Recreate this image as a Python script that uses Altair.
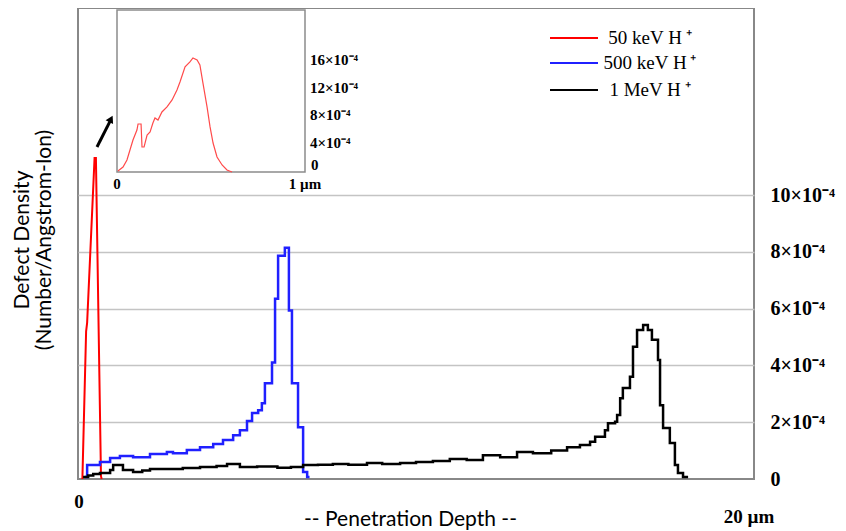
import altair as alt
import pandas as pd

# ---------------- data (depth in µm, defect density in units of 1e-4 / Å-ion) -------------
series_names = ["50 keV H\u2009\u207a", "500 keV H\u2009\u207a", "1 MeV H\u2009\u207a"]
series_colors = ["#ff0000", "#2020ff", "#000000"]

red_depth = [0.13, 0.24, 0.27, 0.49, 0.53, 0.68, 0.70]
red_density = [0.0, 5.2, 5.5, 11.3, 11.3, 0.1, 0.0]

blue_depth = [0.20, 0.27, 0.65, 0.95, 1.24, 1.63, 2.13, 2.63, 2.81, 3.22, 3.61, 4.00,
              4.29, 4.59, 4.79, 5.00, 5.15, 5.33, 5.44, 5.53, 5.74, 5.83, 5.92, 6.12,
              6.24, 6.33, 6.51, 6.66, 6.78, 6.85]
blue_density = [0.07, 0.49, 0.60, 0.74, 0.81, 0.77, 0.88, 0.95, 0.91, 1.02, 1.12, 1.23,
                1.37, 1.54, 1.72, 2.04, 2.32, 2.42, 2.67, 3.37, 4.10, 6.35, 7.86, 8.14,
                5.93, 3.37, 1.82, 0.25, 0.07, 0.07]

black_depth = [0.15, 0.30, 0.45, 0.65, 0.95, 1.04, 1.33, 1.63, 1.90, 2.13, 2.60, 3.10,
               3.61, 4.10, 4.41, 4.79, 5.30, 5.90, 6.30, 6.66, 7.10, 7.54, 8.00, 8.55,
               9.00, 9.53, 10.00, 10.50, 11.00, 11.50, 11.98, 12.49, 12.99, 13.46, 14.00,
               14.47, 14.85, 15.15, 15.30, 15.59, 15.68, 15.89, 15.95, 16.04, 16.12, 16.33,
               16.42, 16.54, 16.72, 16.86, 16.98, 17.16, 17.22, 17.31, 17.51, 17.66, 17.75,
               17.90, 18.05]
black_density = [0.07, 0.12, 0.18, 0.21, 0.32, 0.49, 0.32, 0.25, 0.30, 0.35, 0.35, 0.39,
                 0.42, 0.46, 0.53, 0.42, 0.44, 0.40, 0.42, 0.49, 0.50, 0.53, 0.50, 0.56,
                 0.53, 0.56, 0.60, 0.63, 0.70, 0.67, 0.84, 0.77, 0.95, 0.91, 1.00,
                 1.12, 1.20, 1.31, 1.49, 1.72, 1.96, 2.02, 2.25, 2.84, 3.20, 3.60,
                 4.66, 5.25, 5.42, 5.25, 4.90, 4.19, 2.60, 1.80, 1.27, 0.49, 0.21,
                 0.07, 0.07]

inset_depth = [0.005, 0.032, 0.053, 0.069, 0.085, 0.106, 0.112, 0.128, 0.133, 0.144, 0.160,
               0.176, 0.191, 0.202, 0.218, 0.239, 0.266, 0.293, 0.319, 0.335, 0.362, 0.388,
               0.404, 0.426, 0.441, 0.457, 0.479, 0.495, 0.511, 0.532, 0.559, 0.585, 0.612]
inset_density = [0.14, 0.72, 1.73, 3.17, 4.61, 6.05, 6.92, 6.92, 3.60, 3.60, 5.33,
                 5.77, 7.06, 7.78, 7.49, 8.65, 9.37, 10.38, 11.82, 12.97, 15.14, 15.86,
                 16.43, 16.14, 15.42, 12.83, 9.37, 6.49, 4.18, 2.16, 1.01, 0.29, 0.0]

y_ticks = [0, 2, 4, 6, 8, 10]
grid_ticks = [2, 4, 6, 8, 10]
inset_y_ticks = [4, 8, 12, 16]
inset_y_zero = [0]
x_tick_values = [0, 20]
x_tick_labels = ["0", "20 \u00b5m"]
inset_x_ticks = [0, 1]
inset_x_labels = ["0", "1 \u00b5m"]

arrow_depth = [0.562, 0.95]
arrow_density = [11.69, 12.60]
arrow_head = [0.976, 12.68]

SUP = "\u00d710\u207b\u2074"

# ---------------- layout ----------------
W, H = 676, 471
PX_PER_UNIT = 28.4
y_top = H / PX_PER_UNIT

xs = alt.Scale(domain=[0, 20], nice=False, zero=False)
ys = alt.Scale(domain=[0, y_top], nice=False, zero=False)

IN_L, IN_R, IN_T, IN_B = 39, 227, 2, 164
IN_PX_UNIT = 6.94
in_w = IN_R - IN_L
ixs = alt.Scale(domain=[-IN_L / in_w, (W - IN_L) / in_w], nice=False, zero=False)
iys = alt.Scale(domain=[-(H - IN_B) / IN_PX_UNIT, IN_B / IN_PX_UNIT], nice=False, zero=False)
inset_top = (IN_B - IN_T) / IN_PX_UNIT

SERIF = "Liberation Serif"
SANS = "Lato"

x_axis = alt.Axis(labels=False, ticks=False, domain=False, grid=False,
                  title="-- Penetration Depth --", titleFont=SANS, titleFontSize=21,
                  titleFontWeight="normal", titleColor="black", titleX=332, titleY=46,
                  titleBaseline="alphabetic")
y_axis = alt.Axis(orient="right", values=y_ticks,
                  labelExpr="datum.value == 0 ? '0' : datum.value + '" + SUP + "'",
                  labelFont=SERIF, labelFontWeight="bold", labelFontSize=20,
                  labelColor="black", labelPadding=16, labelAlign="left",
                  labelBaseline="middle", ticks=False, domain=False, grid=False,
                  title=None, labelOverlap=False)
grid_axis = alt.Axis(orient="left", values=grid_ticks, labels=False, ticks=False,
                     domain=False, grid=True, gridColor="#c4c4c4", gridWidth=1.5, title=None)

layers = []

red_df = pd.DataFrame({"depth": red_depth, "density": red_density})
layers.append(alt.Chart(red_df).mark_line(color=series_colors[0], strokeWidth=2).encode(
    x=alt.X("depth:Q", scale=xs, axis=x_axis),
    y=alt.Y("density:Q", scale=ys, axis=y_axis)))

blue_df = pd.DataFrame({"depth": blue_depth, "density": blue_density})
layers.append(alt.Chart(blue_df).mark_line(color=series_colors[1], strokeWidth=2.5,
                                           interpolate="step-after").encode(
    x=alt.X("depth:Q", scale=xs, axis=None),
    y=alt.Y("density:Q", scale=ys, axis=grid_axis)))

black_df = pd.DataFrame({"depth": black_depth, "density": black_density})
layers.append(alt.Chart(black_df).mark_line(color=series_colors[2], strokeWidth=2.5,
                                            interpolate="step-after").encode(
    x=alt.X("depth:Q", scale=xs, axis=None),
    y=alt.Y("density:Q", scale=ys, axis=None)))

# arrow
arrow_df = pd.DataFrame({"x": [arrow_depth[0]], "x2": [arrow_depth[1]],
                         "y": [arrow_density[0]], "y2": [arrow_density[1]]})
layers.append(alt.Chart(arrow_df).mark_rule(color="black", strokeWidth=3).encode(
    x=alt.X("x:Q", scale=xs, axis=None), x2="x2:Q",
    y=alt.Y("y:Q", scale=ys, axis=None), y2="y2:Q"))
head_df = pd.DataFrame({"x": [arrow_head[0]], "y": [arrow_head[1]]})
layers.append(alt.Chart(head_df).mark_point(shape="triangle-up", filled=True, size=70,
                                            angle=27, color="black", opacity=1).encode(
    x=alt.X("x:Q", scale=xs, axis=None),
    y=alt.Y("y:Q", scale=ys, axis=None)))

# x tick labels (main)
x_label_y = [494, 509]
x_label_dx = [1, -5]
for v, lab, py, ddx in zip(x_tick_values, x_tick_labels, x_label_y, x_label_dx):
    d = pd.DataFrame({"x": [v], "t": [lab]})
    layers.append(alt.Chart(d).mark_text(font=SERIF, fontWeight="bold", fontSize=19,
                                         color="black", align="center", baseline="middle",
                                         dx=ddx).encode(
        x=alt.X("x:Q", scale=xs, axis=None), y=alt.value(py), text="t:N"))

# y title (two lines, rotated)
ytitle_lines = ["Defect Density", "(Number/Angstrom-Ion)"]
ytitle_x = [-55, -33]
for line, px in zip(ytitle_lines, ytitle_x):
    d = pd.DataFrame({"t": [line]})
    layers.append(alt.Chart(d).mark_text(font=SANS, fontSize=21, color="black", angle=270,
                                         align="center", baseline="middle").encode(
        x=alt.value(px), y=alt.value(232), text="t:N"))

# legend (manual)
legend_y = [30, 55, 82]
for name, col, py in zip(series_names, series_colors, legend_y):
    d = pd.DataFrame({"t": [name]})
    layers.append(alt.Chart(d).mark_rule(color=col, strokeWidth=2).encode(
        x=alt.value(472), x2=alt.value(520), y=alt.value(py)))
    layers.append(alt.Chart(d).mark_text(font=SERIF, fontSize=19, color="black",
                                         align="center", baseline="middle").encode(
        x=alt.value(572), y=alt.value(py), text="t:N"))

# ---------------- inset ----------------
frame_df = pd.DataFrame({"x0": [0.0], "x1": [1.0], "y0": [0.0], "y1": [inset_top]})
layers.append(alt.Chart(frame_df).mark_rect(fill="white", stroke="#8c8c8c",
                                            strokeWidth=1.5).encode(
    x=alt.X("x0:Q", scale=ixs, axis=None), x2="x1:Q",
    y=alt.Y("y0:Q", scale=iys, axis=None), y2="y1:Q"))

inset_df = pd.DataFrame({"depth": inset_depth, "density": inset_density})
layers.append(alt.Chart(inset_df).mark_line(color="#ff4a4a", strokeWidth=1.2).encode(
    x=alt.X("depth:Q", scale=ixs, axis=None),
    y=alt.Y("density:Q", scale=iys, axis=None)))

iy_df = pd.DataFrame({"x": [1.0] * len(inset_y_ticks), "y": inset_y_ticks,
                      "t": [f"{v}{SUP}" for v in inset_y_ticks]})
layers.append(alt.Chart(iy_df).mark_text(font=SERIF, fontWeight="bold", fontSize=15,
                                         color="black", align="left", baseline="middle",
                                         dx=5, dy=-1).encode(
    x=alt.X("x:Q", scale=ixs, axis=None),
    y=alt.Y("y:Q", scale=iys, axis=None), text="t:N"))

iz_df = pd.DataFrame({"x": [1.0], "y": inset_y_zero, "t": ["0"]})
layers.append(alt.Chart(iz_df).mark_text(font=SERIF, fontWeight="bold", fontSize=15,
                                         color="black", align="left", baseline="middle",
                                         dx=6, dy=-7).encode(
    x=alt.X("x:Q", scale=ixs, axis=None),
    y=alt.Y("y:Q", scale=iys, axis=None), text="t:N"))

ix_df = pd.DataFrame({"x": inset_x_ticks, "y": [0, 0], "t": inset_x_labels})
layers.append(alt.Chart(ix_df).mark_text(font=SERIF, fontWeight="bold", fontSize=15,
                                         color="black", align="center", baseline="middle",
                                         dy=12).encode(
    x=alt.X("x:Q", scale=ixs, axis=None),
    y=alt.Y("y:Q", scale=iys, axis=None), text="t:N"))

chart = alt.layer(*layers).resolve_scale(
    x="independent", y="independent"
).properties(
    width=W, height=H,
    padding={"left": 70, "top": 0, "right": 84, "bottom": 52},
    autosize=alt.AutoSizeParams(type="none"),
    background="white",
).configure_view(stroke="#888888", strokeWidth=2)

chart.save("out.html", embed_options={"renderer": "svg", "actions": False})
